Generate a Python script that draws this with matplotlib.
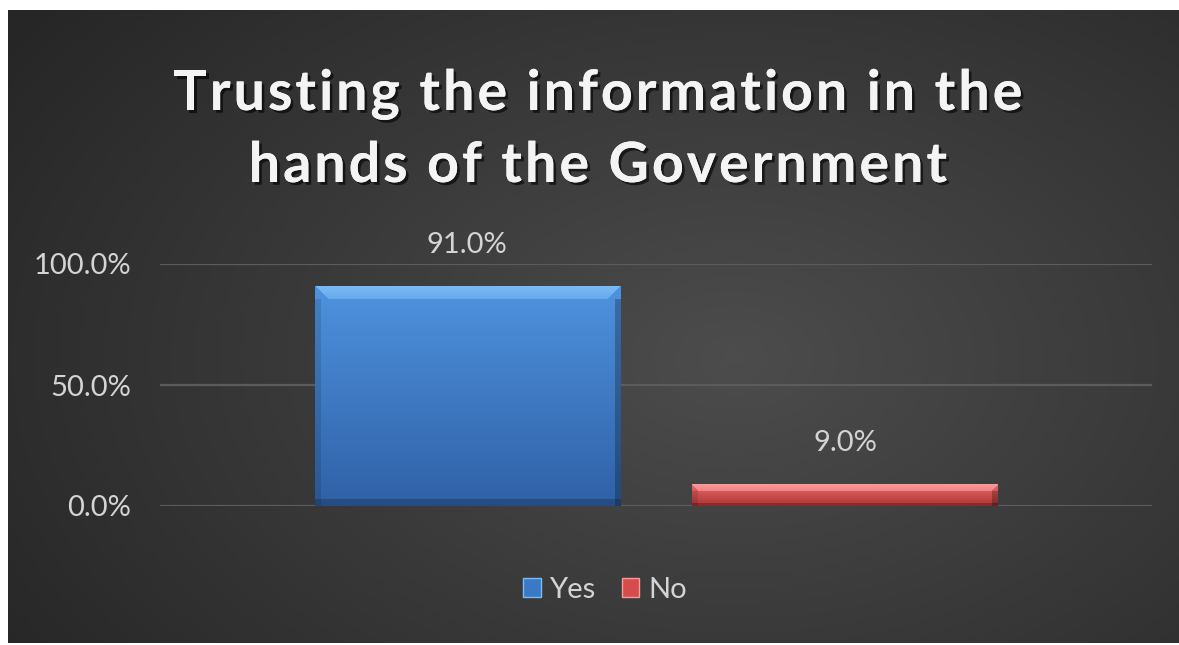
import numpy as np
import matplotlib
matplotlib.use("Agg")
import matplotlib.pyplot as plt
from matplotlib.patches import Rectangle
from matplotlib import patheffects as pe

# survey answers
answers = ["Yes", "No"]
shares = [0.91, 0.09]
yticks = [0.0, 0.5, 1.0]
ytick_labels = ["0.0%", "50.0%", "100.0%"]
title_lines = ["Trusting the information in the", "hands of the Government"]

face = {"Yes": ("#4f93df", "#3b78c6", "#2f61a6", "#7cbcf5"),
        "No": ("#e86a6a", "#d64c4c", "#b03434", "#f79a9a")}

W, H = 1179, 645
fig = plt.figure(figsize=(W / 100, H / 100), dpi=100)
fig.patch.set_facecolor("white")

# dark chart area with a soft radial highlight
bg = fig.add_axes([8 / W, 2 / H, 1 - 8 / W, 1 - 12 / H])
yy, xx = np.mgrid[0:1:300j, 0:1:500j]
r = np.sqrt(((xx - 0.62) / 0.75) ** 2 + ((yy - 0.55) / 0.9) ** 2)
shade = np.clip(0.30 - 0.15 * r, 0.15, 0.30)
bg.imshow(np.dstack([shade] * 3), extent=[0, 1, 0, 1], aspect="auto")
bg.set_axis_off()

ax = fig.add_axes([160 / W, 1 - 506 / H, 992 / W, 242 / H])
ax.patch.set_alpha(0)

width = 0.3075
gap = 0.0735
xs = [-(width + gap) / 2, (width + gap) / 2]
px_per_x = 992
px_per_y = 242
txt = "#d4d4d4"


def bevel_image(key, h_px, w_px):
    top, mid, bot, hi = [np.array(matplotlib.colors.to_rgb(c)) for c in face[key]]
    h = max(int(round(h_px)), 2)
    w = int(round(w_px))
    t = np.linspace(0, 1, h)[:, None]
    img = top * (1 - t[..., None]) + bot * t[..., None]
    img = np.repeat(img, w, axis=1)
    b = max(3, min(14, h // 3))
    # slanted highlight along the top edge
    for i in range(b):
        f = 1 - i / b
        c = hi * (0.5 + 0.5 * f) + top * (0.5 - 0.5 * f)
        img[i, i:w - i] = c
    img[-max(2, b // 2):] = bot * 0.8
    side = min(6, w // 20)
    img[b:, :side] *= 0.88
    img[b:, -side:] *= 0.75
    return np.clip(img, 0, 1)


bars = ax.bar(xs, shares, width=width, color=[face[a][1] for a in answers],
              edgecolor="none", zorder=3)
for bar, a, v in zip(bars, answers, shares):
    x0 = bar.get_x()
    img = bevel_image(a, v * px_per_y, width * px_per_x)
    im = ax.imshow(img, extent=[x0, x0 + width, 0, v], aspect="auto", zorder=4)
    im.set_clip_path(bar)
    ax.text(x0 + width / 2, v + 0.17, f"{v * 100:.1f}%", ha="center", va="center",
            color=txt, fontsize=21, family="Lato", clip_on=False)

ax.set_xlim(-0.5, 0.5)
ax.set_ylim(0, 1)
ax.set_yticks(yticks)
ax.set_yticklabels(ytick_labels)
ax.set_xticks([])
ax.tick_params(axis="y", length=0, pad=21, labelsize=21, labelcolor=txt)
for lab in ax.get_yticklabels():
    lab.set_family("Lato")
ax.grid(axis="y", color="#5c5c5c", linewidth=1.6, zorder=0)
for s in ax.spines.values():
    s.set_visible(False)

handles = [Rectangle((0, 0), 1, 1, facecolor=face[a][1], edgecolor=face[a][3], linewidth=1)
           for a in answers]
leg = fig.legend(handles, answers, loc="center", bbox_to_anchor=(605 / W, 1 - 590 / H),
                 ncol=2, frameon=False, handlelength=0.6, handleheight=0.6,
                 handletextpad=0.3, columnspacing=0.9, prop={"family": "Lato", "size": 21})
for t in leg.get_texts():
    t.set_color(txt)

# title with letter spacing, placed glyph by glyph
renderer = fig.canvas.get_renderer()
tkw = dict(color="#f4f4f4", fontsize=40, family="Lato", fontweight="bold",
           path_effects=[pe.withSimplePatchShadow(offset=(2, -2), shadow_rgbFace="black", alpha=0.6),
                         pe.Normal()])


def str_width(s):
    t = fig.text(0, 0, s, **tkw)
    w = t.get_window_extent(renderer).width
    t.remove()
    return w


tracking = 3.0
base = str_width("ii")
for line, y_px in zip(title_lines, [110, 182]):
    widths = [str_width("i" + c + "i") - base for c in line]
    total = sum(widths) + tracking * (len(line) - 1)
    x = 598 - total / 2
    for c, w in zip(line, widths):
        if c != " ":
            fig.text(x / W, 1 - y_px / H, c, ha="left", va="baseline", **tkw)
        x += w + tracking

fig.savefig("out.png", dpi=100, facecolor=fig.get_facecolor())
